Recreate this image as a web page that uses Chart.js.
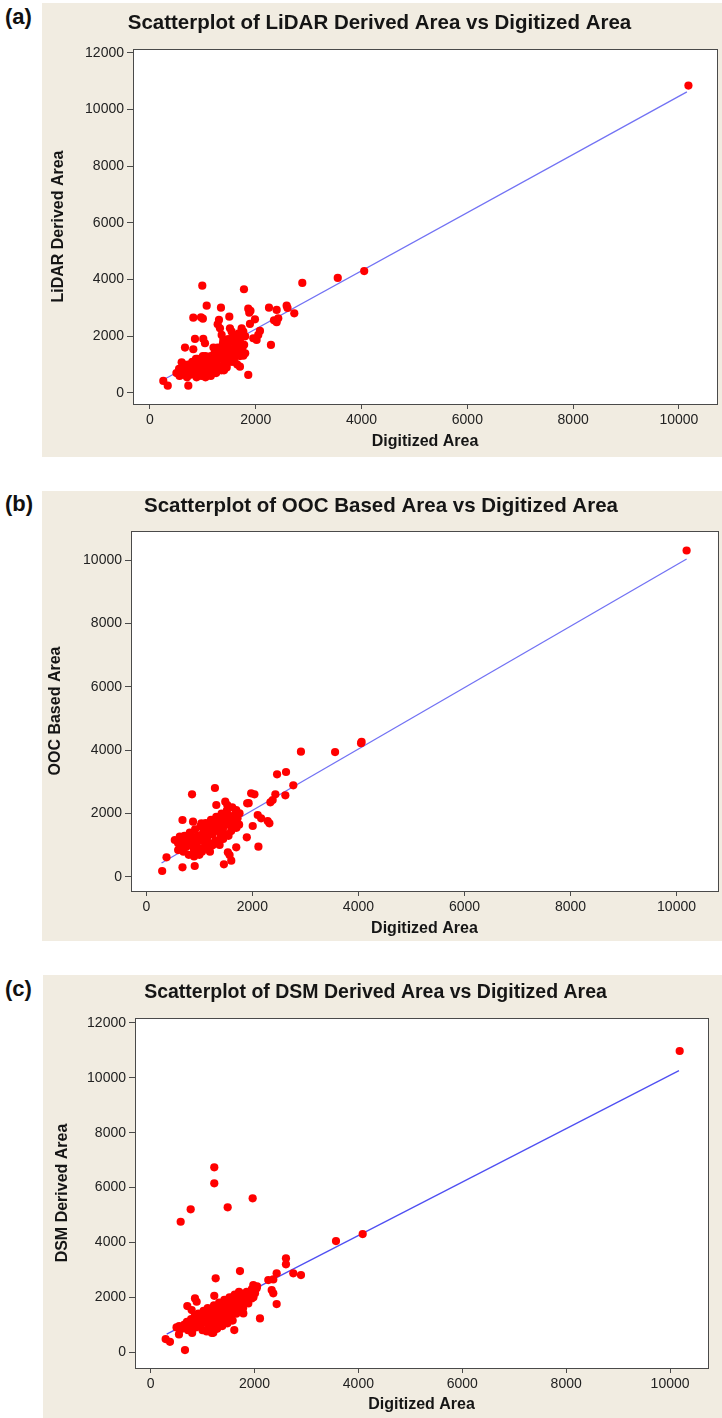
<!DOCTYPE html>
<html>
<head>
<meta charset="utf-8">
<script src="https://cdn.jsdelivr.net/npm/chart.js@4.4.1/dist/chart.umd.min.js"></script>
<style>
  body { margin: 0; background: #fff; width: 722px; height: 1418px; position: relative; overflow: hidden; font-family: 'Liberation Sans', Arial, sans-serif; }
  .tag { position: absolute; left: 5px; font-weight: bold; font-size: 22px; line-height: 22px; color: #111; }
  .panel { position: absolute; background: #f1ece1; }
  .panel canvas { display: block; }
</style>
</head>
<body>

<div class="tag" style="top:6px">(a)</div>
<div class="panel" style="left:42px;top:3px;width:680px;height:454px"><canvas id="chartA" width="680" height="454"></canvas></div>

<div class="tag" style="top:493px">(b)</div>
<div class="panel" style="left:42px;top:491px;width:680px;height:450px"><canvas id="chartB" width="680" height="450"></canvas></div>

<div class="tag" style="top:978px">(c)</div>
<div class="panel" style="left:43px;top:975px;width:679px;height:443px"><canvas id="chartC" width="679" height="443"></canvas></div>

<script>
// tick labels
const xTicks = [0, 2000, 4000, 6000, 8000, 10000]
const yTicksA = [0, 2000, 4000, 6000, 8000, 10000, 12000]
const yTicksB = [0, 2000, 4000, 6000, 8000, 10000]
const yTicksC = [0, 2000, 4000, 6000, 8000, 10000, 12000]

// (a) digitized area vs LiDAR derived area
const lidarPoints = [
  [252,424],[336,258],[725,258],[599,1083],[662,1600],[819,1543],[851,1906],[1008,1906],[1040,1754],
  [819,2658],[964,2672],[1000,2620],[989,3788],[1072,3082],[1342,3011],[1304,2577],[1280,2425],
  [1500,2693],[1777,3660],[1858,2976],[1877,2834],[1900,2900],[2250,3011],[2395,2930],[2584,3082],
  [2600,3000],[2728,2812],[2344,2565],[2395,2496],[2425,2637],[1985,2600],[1890,2435],[2079,2188],
  [1953,1931],[2016,1871],[2047,2047],[2287,1694],[1733,2284],[1764,2164],[1638,1987],[1512,2284],
  [1544,2164],[1575,2047],[1355,2047],[1386,1871],[1323,2284],[1701,928],[1858,635],[1764,1317],
  [2880,3883],[3550,4060],[4050,4300],[10180,10850],
  [500,700],[550,850],[600,750],[650,650],[680,900],[700,550],[720,1000],[750,800],[780,650],
  [800,1100],[820,900],[850,700],[870,1200],[880,550],[900,1000],[920,800],[950,1100],[970,600],
  [990,900],[1000,1300],[1020,750],[1050,1000],[1080,650],[1100,1150],[1120,850],[1150,1300],
  [1180,950],[1200,700],[1220,1400],[1250,1100],[1270,850],[1300,1500],[1320,1200],[1350,950],
  [1370,1600],[1400,1300],[1420,1100],[1450,1700],[1470,1450],[1500,1200],[1520,1800],[1550,1550],
  [1570,1350],[1600,1900],[1620,1650],[1650,1450],[1680,1750],[1700,1550],[1720,1950],[1750,1350],
  [1780,1700],[1800,2000],[1200,1000],[1250,1300],[1300,900],[1350,1400],[1400,800],[1450,1000],
  [1500,1500],[1550,1100],[1600,1300],[1650,1700],[1150,1000],[1100,900],[900,1200],[850,1000],
  [780,950],[950,750],[1050,550],[1150,600],[1250,700],[1350,800],[1450,900],[1050,1300],[1000,1100],
  [920,650],[700,750],[640,1000],[560,600],[1280,1600],[1380,1750],[1480,1900],[1580,2000],
  [1680,2100],[1700,1300],[1600,1100],[1750,1600],[1800,1400],[1650,1000],[1150,1200],[1200,1600]
]
const fitXA = [246, 10151]
const fitYA = [459, 10625]

// (b) digitized area vs OOC based area
const oocPoints = [
  [299,189],[381,621],[682,306],[913,347],[1463,400],[1602,514],[1538,779],[1570,694],[1382,1009],
  [1696,937],[2114,956],[1895,1252],[2007,1609],[2289,1767],[2321,1694],[2101,1956],[2165,1852],
  [1902,2325],[1930,2330],[1977,2640],[2039,2609],[862,2609],[1294,2808],[2434,2609],[2383,2429],
  [2340,2356],[2622,2577],[2772,2893],[2466,3240],[2635,3312],[2916,3953],[3560,3940],[4050,4220],
  [4060,4260],[10190,10300],[682,1798],[881,1744],[1038,1694],[1320,2271],[1489,2375],[1527,2271],
  [1696,2114],[1758,2009],[631,1271],[537,1167],[599,1063],
  [600,850],[650,1100],[700,800],[720,1300],[750,950],[780,1150],[800,700],[820,1400],[850,1000],
  [870,1200],[900,850],[920,1500],[950,1050],[970,1300],[1000,900],[1020,1600],[1050,1150],
  [1070,1400],[1100,950],[1120,1700],[1150,1250],[1170,1500],[1200,1050],[1220,1800],[1250,1350],
  [1270,1600],[1300,1150],[1320,1900],[1350,1450],[1370,1700],[1400,1250],[1420,2000],[1450,1550],
  [1470,1800],[1500,1350],[1520,2100],[1550,1650],[1570,1900],[1600,1450],[1620,2200],[1650,1750],
  [1680,2000],[1700,1550],[1720,1850],[1750,1650],[900,1100],[1000,1200],[1100,1300],[1200,1400],
  [1300,1500],[1400,1600],[1500,1700],[1600,1800],[1050,800],[1150,900],[1250,1000],[1350,1100],
  [1450,1200],[1550,1300],[800,1000],[700,1050],[650,900],[1100,1600],[1200,1700],[1300,1800],
  [1400,1900],[950,1250],[850,1300],[1250,1550],[1350,1650],[1450,1750],[1550,1950],[1650,1550],
  [1150,1100],[1000,700],[900,650],[1200,800],[1400,1400]
]
const fitXB = [287, 10190]
const fitYB = [442, 10032]

// (c) digitized area vs DSM derived area
const dsmPoints = [
  [290,474],[373,376],[662,73],[547,645],[707,1678],[855,1958],[887,1835],[791,1532],[1207,704],
  [1611,802],[2106,1229],[1785,1411],[1561,1167],[1946,1958],[1881,1776],[1977,2443],[2042,2323],
  [2010,2141],[1702,2199],[1592,2017],[2427,1751],[2331,2261],[2362,2141],[2266,2626],[2362,2651],
  [2427,2870],[1226,2053],[1253,2688],[1721,2954],[2606,3417],[2606,3198],[2747,2870],[2895,2808],
  [3569,4048],[4083,4303],[10185,10977],[579,4752],[772,5204],[1226,6736],[1226,6152],[1484,5277],
  [1965,5605],
  [500,900],[550,950],[600,850],[650,1000],[700,1100],[720,800],[750,950],[780,1200],[800,700],
  [820,1050],[850,1300],[870,900],[900,1150],[920,1400],[950,1000],[970,1250],[1000,800],[1020,1500],
  [1050,1100],[1070,1350],[1100,1600],[1120,950],[1150,1250],[1170,1450],[1200,1050],[1220,1700],
  [1250,1300],[1270,1550],[1300,1150],[1320,1800],[1350,1400],[1370,1650],[1400,1250],[1420,1900],
  [1450,1500],[1470,1750],[1500,1350],[1520,2000],[1550,1600],[1570,1850],[1600,1450],[1620,2100],
  [1650,1700],[1680,1950],[1700,1550],[1720,2150],[1750,1800],[1780,1600],[1800,2000],[1850,2200],
  [1900,2100],[1950,2300],[2000,2200],[1100,1200],[1200,1350],[1300,1450],[1400,1550],[1500,1650],
  [1600,1750],[1000,1050],[900,950],[800,900],[1150,900],[1250,1000],[1350,1100],[1450,1200],
  [1550,1300],[1650,1400],[1050,1400],[1150,1550],[1250,1650],[1350,1750],[1450,1850],[950,1300],
  [1380,950],[1480,1050],[1580,1150],[1280,850],[1180,700],[1080,750],[1700,1900],[1800,1750],
  [1880,1900],[1980,2000],[2050,2400],[1520,1200],[1420,1050],[1320,1250],[1220,1150],[1120,1050]
]
const fitXC = [310, 10171]
const fitYC = [656, 10259]

const axisColor = '#4a4a4a'
const fontFamily = "'Liberation Sans', Arial, sans-serif"

// white plot area + box around it
const plotFrame = {
  id: 'plotFrame',
  beforeDraw(chart) {
    const a = chart.chartArea
    const ctx = chart.ctx
    ctx.save()
    ctx.fillStyle = '#ffffff'
    ctx.fillRect(a.left, a.top, a.right - a.left, a.bottom - a.top)
    ctx.restore()
  },
  afterDraw(chart) {
    const a = chart.chartArea
    const ctx = chart.ctx
    ctx.save()
    ctx.strokeStyle = axisColor
    ctx.lineWidth = 1
    ctx.strokeRect(Math.round(a.left) + 0.5, Math.round(a.top) + 0.5, Math.round(a.right - a.left), Math.round(a.bottom - a.top))
    ctx.restore()
  }
}

function makeChart(id, cfg) {
  const ctx = document.getElementById(id).getContext('2d')
  return new Chart(ctx, {
    type: 'scatter',
    data: {
      datasets: [{
        label: 'points',
        data: cfg.points.map(p => ({ x: p[0], y: p[1] })),
        backgroundColor: '#ff0000',
        borderWidth: 0,
        pointRadius: 4.1,
        pointHoverRadius: 4.1
      }, {
        label: 'fit',
        data: cfg.fitX.map((x, i) => ({ x: x, y: cfg.fitY[i] })),
        showLine: true,
        borderColor: cfg.lineColor,
        borderWidth: 1.3,
        pointRadius: 0,
        fill: false
      }]
    },
    options: {
      responsive: false,
      animation: false,
      devicePixelRatio: 1,
      layout: { padding: { left: 0, right: cfg.padRight, top: 0, bottom: 0 } },
      plugins: {
        legend: { display: false },
        tooltip: { enabled: false },
        title: {
          display: true,
          text: cfg.title,
          color: '#151515',
          font: { family: fontFamily, size: cfg.titleSize, weight: 'bold', lineHeight: 1.2 },
          padding: { top: cfg.titleTop, bottom: cfg.titleBottom }
        }
      },
      scales: {
        x: {
          type: 'linear',
          min: cfg.xMin,
          max: cfg.xMax,
          afterBuildTicks: s => { s.ticks = xTicks.map(v => ({ value: v })) },
          afterFit: s => { s.height = cfg.xAxisHeight },
          grid: { drawOnChartArea: false, drawTicks: true, tickLength: 5, color: axisColor },
          border: { color: axisColor, width: 1 },
          ticks: {
            color: '#222',
            font: { family: fontFamily, size: 14 },
            padding: 3,
            maxRotation: 0,
            callback: v => String(v)
          },
          title: {
            display: true,
            text: 'Digitized Area',
            color: '#151515',
            font: { family: fontFamily, size: 16, weight: 'bold', lineHeight: 1.2 },
            padding: { top: 0, bottom: cfg.xTitleBottom }
          }
        },
        y: {
          type: 'linear',
          min: cfg.yMin,
          max: cfg.yMax,
          afterBuildTicks: s => { s.ticks = cfg.yTicks.map(v => ({ value: v })) },
          afterFit: s => { s.width = cfg.yAxisWidth },
          grid: { drawOnChartArea: false, drawTicks: true, tickLength: 6, color: axisColor },
          border: { color: axisColor, width: 1 },
          ticks: {
            color: '#222',
            font: { family: fontFamily, size: 14 },
            padding: 3,
            callback: v => String(v)
          },
          title: {
            display: true,
            text: cfg.yTitle,
            color: '#151515',
            font: { family: fontFamily, size: 16, weight: 'bold', lineHeight: 1.2 },
            padding: { top: cfg.yTitleTop, bottom: 0 }
          }
        }
      }
    },
    plugins: [plotFrame]
  })
}

makeChart('chartA', {
  points: lidarPoints, fitX: fitXA, fitY: fitYA, lineColor: '#7272f4',
  title: 'Scatterplot of LiDAR Derived Area vs Digitized Area', titleSize: 20.5, titleTop: 7.7, titleBottom: 13.7,
  yTitle: 'LiDAR Derived Area', yTicks: yTicksA,
  xMin: -321, xMax: 10720, yMin: -390, yMax: 12140,
  yAxisWidth: 91, xAxisHeight: 53, padRight: 5, xTitleBottom: 6, yTitleTop: 6.5
})

makeChart('chartB', {
  points: oocPoints, fitX: fitXB, fitY: fitYB, lineColor: '#7272f4',
  title: 'Scatterplot of OOC Based Area vs Digitized Area', titleSize: 20.5, titleTop: 2.7, titleBottom: 12.7,
  yTitle: 'OOC Based Area', yTicks: yTicksB,
  xMin: -289, xMax: 10780, yMin: -442, yMax: 10915,
  yAxisWidth: 89, xAxisHeight: 50, padRight: 2, xTitleBottom: 3, yTitleTop: 3.5
})

makeChart('chartC', {
  points: dsmPoints, fitX: fitXC, fitY: fitYC, lineColor: '#4f4ff2',
  title: 'Scatterplot of DSM Derived Area vs Digitized Area', titleSize: 19.5, titleTop: 6.3, titleBottom: 13.3,
  yTitle: 'DSM Derived Area', yTicks: yTicksC,
  xMin: -300, xMax: 10730, yMin: -580, yMax: 12180,
  yAxisWidth: 92, xAxisHeight: 50, padRight: 14, xTitleBottom: 4, yTitleTop: 9.5
})
</script>
</body>
</html>
